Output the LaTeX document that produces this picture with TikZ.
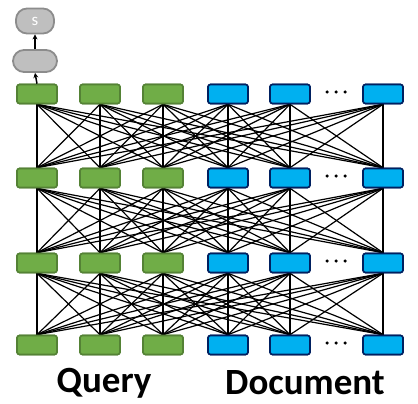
\documentclass[tikz,border=0pt]{standalone}
\usepackage{fontspec}
\setmainfont{Carlito}
\usetikzlibrary{arrows.meta}
\definecolor{gfill}{HTML}{70AD47}
\definecolor{gdraw}{HTML}{548235}
\definecolor{bfill}{HTML}{00B0F0}
\definecolor{bdraw}{HTML}{002060}
\definecolor{sfill}{HTML}{BFBFBF}
\definecolor{sdraw}{HTML}{8C8C8C}
\tikzset{
  gbox/.style={draw=gdraw, fill=gfill, line width=1.6pt, rounded corners=2.5pt, minimum width=40pt, minimum height=19pt, inner sep=0pt},
  bbox/.style={draw=bdraw, fill=bfill, line width=1.6pt, rounded corners=2.5pt, minimum width=40pt, minimum height=19pt, inner sep=0pt},
  sbox/.style={draw=sdraw, fill=sfill, line width=1.8pt, rectangle, rounded corners=11pt, inner sep=0pt, text=white, font=\fontsize{17}{18}\selectfont},
  conn/.style={line width=1.2pt, black},
  dotc/.style={circle, fill=black, inner sep=0pt, minimum size=3.5pt},
  lbl/.style={font=\fontsize{37}{40}\selectfont\bfseries, inner sep=0pt},
  arr/.style={line width=1.5pt, -{Stealth[length=5pt,width=5pt]}}
}
\begin{document}
\begin{tikzpicture}[x=1pt,y=-1pt]
\useasboundingbox (0,0) rectangle (418,404);
% rows
\foreach \r/\y in {1/94,2/178,3/263,4/345}{
  \node[gbox] (g1\r) at (37,\y) {};
  \node[gbox] (g2\r) at (100,\y) {};
  \node[gbox] (g3\r) at (163,\y) {};
  \node[bbox] (b1\r) at (228,\y) {};
  \node[bbox] (b2\r) at (290,\y) {};
  \node[bbox] (b3\r) at (383,\y) {};
  \node[dotc] (da\r) at (327,\y-2) {};
  \node[dotc] (db\r) at (336,\y-2) {};
  \node[dotc] (dc\r) at (345,\y-2) {};
}
% connections
\foreach \r/\s in {1/2,2/3,3/4}{
  \foreach \a in {g1,g2,g3,b1,b2,b3}{
    \foreach \b in {g1,g2,g3,b1,b2,b3}{
      \draw[conn] (\a\r.south) -- (\b\s.north);
    }
  }
}
% redraw boxes on top
\foreach \r/\y in {1/94,2/178,3/263,4/345}{
  \node[gbox] at (37,\y) {};
  \node[gbox] at (100,\y) {};
  \node[gbox] at (163,\y) {};
  \node[bbox] at (228,\y) {};
  \node[bbox] at (290,\y) {};
  \node[bbox] at (383,\y) {};
}
\node[sbox, minimum width=44pt, minimum height=22pt] (h) at (35,61) {};
\node[sbox, minimum width=38pt, minimum height=25pt] (s) at (35,21) {s};
\draw[arr] (g11.north) -- (h.south);
\draw[arr] (h.north) -- (s.south);
\node[lbl] (q) at (104,383) {Query};
\node[lbl] (doc) at (305,383) {Document};
\end{tikzpicture}
\end{document}
